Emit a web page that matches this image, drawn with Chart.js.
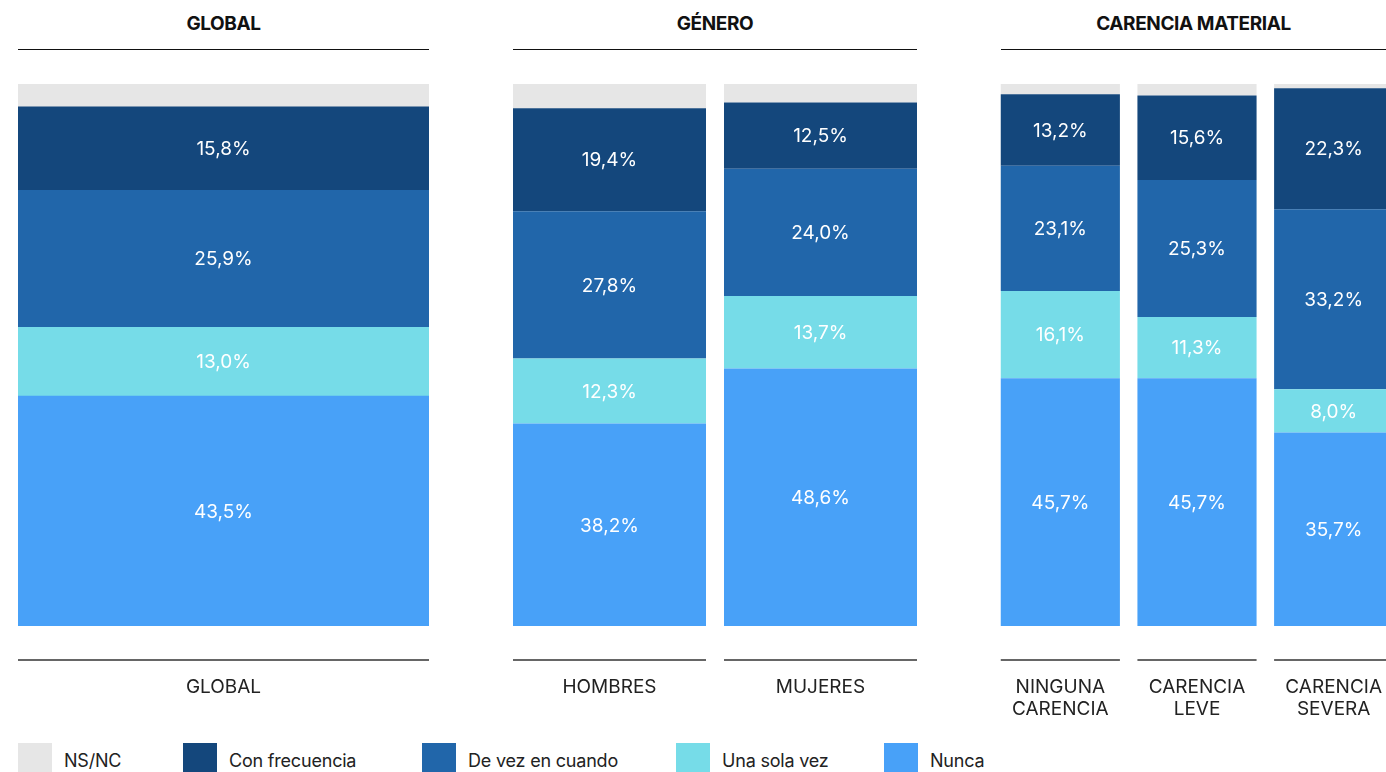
<!DOCTYPE html>
<html lang="es">
<head>
<meta charset="utf-8">
<title>Frecuencia por grupo</title>
<script src="https://cdn.jsdelivr.net/npm/chart.js@4.4.1/dist/chart.umd.min.js"></script>
<style>
  html, body { margin: 0; padding: 0; background: #fff; }
  body { width: 1386px; height: 772px; overflow: hidden; position: relative; font-family: Inter, "Noto Sans", sans-serif; }
  canvas { position: absolute; top: 84px; }
  .head { position: absolute; top: 0; height: 49px; border-bottom: 1.5px solid #111; text-align: center;
          font-weight: 700; font-size: 19px; line-height: 47px; color: #111; letter-spacing: -0.4px; }
  .legend-item { position: absolute; top: 743px; height: 30px; display: flex; align-items: center; font-size: 18px; color: #222; }
  .legend-item span.box { width: 34px; height: 30px; margin-right: 12px; display: inline-block; }
  .legend-item span.txt { padding-top: 4px; letter-spacing: -0.2px; }
</style>
</head>
<body>
<div class="head" style="left:18px;width:411px">GLOBAL</div>
<div class="head" style="left:513px;width:404px">GÉNERO</div>
<div class="head" style="left:1001px;width:385px">CARENCIA MATERIAL</div>

<canvas id="c0" width="411" height="640" style="left:18px"></canvas>
<canvas id="c1" width="422" height="640" style="left:504px"></canvas>
<canvas id="c2" width="410" height="640" style="left:992px"></canvas>

<div id="legend"></div>

<script>
const categories = ['GLOBAL', 'HOMBRES', 'MUJERES', ['NINGUNA', 'CARENCIA'], ['CARENCIA', 'LEVE'], ['CARENCIA', 'SEVERA']];
const groups = ['GLOBAL', 'GÉNERO', 'CARENCIA MATERIAL'];
const groupMembers = [[0], [1, 2], [3, 4, 5]];

const nunca         = [43.5, 38.2, 48.6, 45.7, 45.7, 35.7];
const unaSolaVez    = [13.0, 12.3, 13.7, 16.1, 11.3, 8.0];
const deVezEnCuando = [25.9, 27.8, 24.0, 23.1, 25.3, 33.2];
const conFrecuencia = [15.8, 19.4, 12.5, 13.2, 15.6, 22.3];
const nsnc          = [4.3, 4.6, 3.5, 1.9, 2.1, 0.8];   // not labelled, estimated

const series = [
  { label: 'Nunca', data: nunca, color: '#48a1f8' },
  { label: 'Una sola vez', data: unaSolaVez, color: '#76dce8' },
  { label: 'De vez en cuando', data: deVezEnCuando, color: '#2166aa' },
  { label: 'Con frecuencia', data: conFrecuencia, color: '#14477c' },
  { label: 'NS/NC', data: nsnc, color: '#e6e6e6', noLabel: true }
];
const legendOrder = ['NS/NC', 'Con frecuencia', 'De vez en cuando', 'Una sola vez', 'Nunca'];

// layout per panel
const panelMax = [102.5, 102.3, 100];
const barPct = [1, 193 / 211, 119 / 136.5];
const legendLeft = [18, 183, 422, 676, 884];

const fmt = v => v.toFixed(1).replace('.', ',') + '%';

const panelPlugin = {
  id: 'panel',
  afterDatasetsDraw(chart) {
    const ctx = chart.ctx;
    ctx.save();
    ctx.textAlign = 'center';
    ctx.textBaseline = 'middle';

    // values inside the segments
    ctx.font = '400 19px Inter';
    ctx.fillStyle = '#ffffff';
    chart.data.datasets.forEach((ds, di) => {
      if (ds.noLabel) return;
      chart.getDatasetMeta(di).data.forEach((bar, i) => {
        ctx.fillText(fmt(ds.data[i]), bar.x, (bar.y + bar.base) / 2 + 1);
      });
    });

    // baseline rule and category labels under each bar
    const bottom = chart.chartArea.bottom;
    chart.getDatasetMeta(0).data.forEach((bar, i) => {
      const half = bar.width / 2;
      ctx.strokeStyle = '#333';
      ctx.lineWidth = 1.5;
      ctx.beginPath();
      ctx.moveTo(bar.x - half, bottom + 34);
      ctx.lineTo(bar.x + half, bottom + 34);
      ctx.stroke();

      ctx.font = '400 19px Inter';
      ctx.fillStyle = '#222';
      let lab = chart.data.labels[i];
      if (!Array.isArray(lab)) lab = [lab];
      lab.forEach((t, k) => ctx.fillText(t, bar.x, bottom + 61 + k * 22));
    });
    ctx.restore();
  }
};

groups.forEach((g, gi) => {
  const idx = groupMembers[gi];
  new Chart(document.getElementById('c' + gi), {
    type: 'bar',
    data: {
      labels: idx.map(i => categories[i]),
      datasets: series.map(s => ({
        label: s.label,
        data: idx.map(i => s.data[i]),
        backgroundColor: s.color,
        borderWidth: 0,
        noLabel: s.noLabel,
        categoryPercentage: 1,
        barPercentage: barPct[gi]
      }))
    },
    options: {
      responsive: false,
      animation: false,
      events: [],
      layout: { padding: { top: 0, bottom: 98, left: 0, right: 0 } },
      scales: {
        x: { stacked: true, display: false },
        y: { stacked: true, display: false, min: 0, max: panelMax[gi] }
      },
      plugins: {
        legend: { display: false },
        tooltip: { enabled: false }
      }
    },
    plugins: [panelPlugin]
  });
});

// legend
const legendEl = document.getElementById('legend');
legendOrder.forEach((name, i) => {
  const s = series.find(x => x.label === name);
  const item = document.createElement('div');
  item.className = 'legend-item';
  item.style.left = legendLeft[i] + 'px';
  item.innerHTML = `<span class="box" style="background:${s.color}"></span><span class="txt">${name}</span>`;
  legendEl.appendChild(item);
});
</script>
</body>
</html>
